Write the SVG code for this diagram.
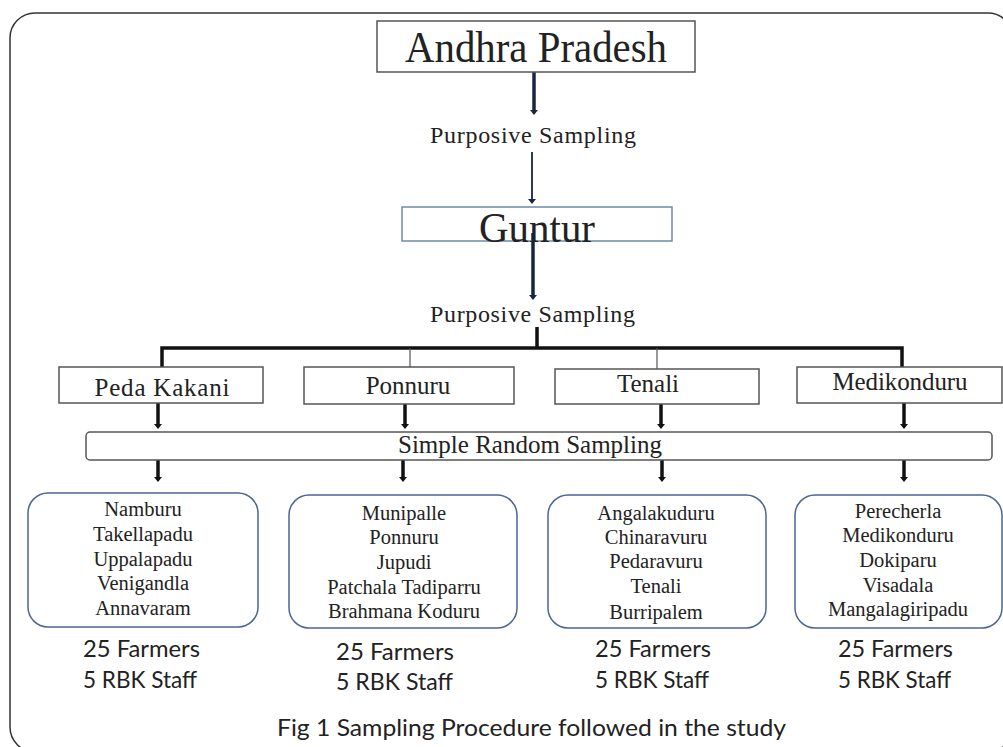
<svg xmlns="http://www.w3.org/2000/svg" width="1003" height="747" viewBox="0 0 1003 747">
<style>
.serif{font-family:"Liberation Serif","Times New Roman",serif;fill:#222;}
.sans{font-family:Lato,"Open Sans","Liberation Sans",sans-serif;fill:#222;}
.box{fill:#fff;stroke:#555;stroke-width:1.5;}
.vbox{fill:#fff;stroke:#4a6694;stroke-width:1.5;}
.thick{stroke:#111;stroke-width:3.5;fill:none;}
.navy{stroke:#1a2640;stroke-width:3.5;fill:none;}
.thin{stroke:#555;stroke-width:1.2;fill:none;}
.c{text-anchor:middle;}
</style>
<defs>
<marker id="ah" viewBox="0 0 5 8" refX="0" refY="4" markerWidth="5" markerHeight="8" markerUnits="userSpaceOnUse" orient="auto">
<path d="M0,0 L5,4 L0,8 Z" fill="#111"/>
</marker>
<marker id="ahn" viewBox="0 0 5 8" refX="0" refY="4" markerWidth="5" markerHeight="8" markerUnits="userSpaceOnUse" orient="auto">
<path d="M0,0 L5,4 L0,8 Z" fill="#1a2640"/>
</marker>
</defs>
<rect x="0" y="0" width="1003" height="747" fill="#fff"/>
<rect id="frame" x="10" y="13" width="1003" height="739" rx="25" fill="#fff" stroke="#333" stroke-width="1.5"/>

<g id="connectors">
<line class="navy" x1="534" y1="72" x2="534" y2="110" marker-end="url(#ahn)"/>
<line x1="532" y1="152" x2="532" y2="199" stroke="#1a2640" stroke-width="1.8" marker-end="url(#ahn)"/>
<line class="navy" x1="533" y1="233" x2="533" y2="295" marker-end="url(#ahn)"/>
<line class="thick" x1="537" y1="327" x2="537" y2="348"/>
<polyline class="thick" points="162,368 162,348 902,348 902,368"/>
<line class="thin" x1="410" y1="348" x2="410" y2="367"/>
<line class="thin" x1="657" y1="348" x2="657" y2="369"/>
<line class="thick" x1="158" y1="403" x2="158" y2="424" marker-end="url(#ah)"/>
<line class="thick" x1="405" y1="404" x2="405" y2="424" marker-end="url(#ah)"/>
<line class="thick" x1="661" y1="404" x2="661" y2="424" marker-end="url(#ah)"/>
<line class="thick" x1="904" y1="403" x2="904" y2="424" marker-end="url(#ah)"/>
<line class="thick" x1="158" y1="460" x2="158" y2="477" marker-end="url(#ah)"/>
<line class="thick" x1="403" y1="460" x2="403" y2="477" marker-end="url(#ah)"/>
<line class="thick" x1="662" y1="460" x2="662" y2="477" marker-end="url(#ah)"/>
<line class="thick" x1="904" y1="460" x2="904" y2="477" marker-end="url(#ah)"/>
</g>

<g id="andhra">
<rect class="box" x="377" y="21" width="318" height="51" stroke="#444"/>
<text class="serif c" x="536" y="62" font-size="44" textLength="262" lengthAdjust="spacingAndGlyphs">Andhra Pradesh</text>
</g>
<g id="purposive1">
<text class="serif" x="430" y="143" font-size="24" textLength="206">Purposive Sampling</text>
</g>
<g id="guntur">
<rect x="402" y="207" width="270" height="34" fill="none" stroke="#7088aa" stroke-width="1.5"/>
<text class="serif c" x="537" y="242" font-size="42" textLength="116" lengthAdjust="spacingAndGlyphs">Guntur</text>
</g>
<g id="purposive2">
<text class="serif" x="430" y="322" font-size="24" textLength="205">Purposive Sampling</text>
</g>

<g id="pedakakani">
<rect class="box" x="59" y="367" width="204" height="36"/>
<text class="serif c" x="162" y="396" font-size="25" textLength="135">Peda Kakani</text>
</g>
<g id="ponnuru">
<rect class="box" x="304" y="367" width="210" height="37"/>
<text class="serif c" x="408" y="394" font-size="25">Ponnuru</text>
</g>
<g id="tenali">
<rect class="box" x="555" y="369" width="204" height="35"/>
<text class="serif c" x="648" y="392" font-size="25">Tenali</text>
</g>
<g id="medikonduru">
<rect class="box" x="797" y="367" width="205" height="36"/>
<text class="serif c" x="900" y="390" font-size="25" textLength="135">Medikonduru</text>
</g>

<g id="srs">
<rect class="box" x="86" y="432" width="906" height="28" rx="4" stroke="#444"/>
<text class="serif" x="398" y="453" font-size="25" textLength="264">Simple Random Sampling</text>
</g>

<g id="villages1">
<rect class="vbox" x="28" y="493" width="230" height="134" rx="20"/>
<g class="serif c" font-size="20.5">
<text x="143" y="516">Namburu</text>
<text x="143" y="541">Takellapadu</text>
<text x="143" y="566">Uppalapadu</text>
<text x="143" y="590">Venigandla</text>
<text x="143" y="615">Annavaram</text>
</g>
<text class="sans" x="83" y="657" font-size="24" textLength="117" lengthAdjust="spacingAndGlyphs">25 Farmers</text>
<text class="sans" x="83" y="688" font-size="24" textLength="114" lengthAdjust="spacingAndGlyphs">5 RBK Staff</text>
</g>

<g id="villages2">
<rect class="vbox" x="289" y="495" width="228" height="133" rx="20"/>
<g class="serif c" font-size="20.5">
<text x="404" y="520">Munipalle</text>
<text x="404" y="544">Ponnuru</text>
<text x="404" y="569">Jupudi</text>
<text x="404" y="594">Patchala Tadiparru</text>
<text x="404" y="618">Brahmana Koduru</text>
</g>
<text class="sans" x="336" y="660" font-size="24" textLength="118" lengthAdjust="spacingAndGlyphs">25 Farmers</text>
<text class="sans" x="336" y="690" font-size="24" textLength="117" lengthAdjust="spacingAndGlyphs">5 RBK Staff</text>
</g>

<g id="villages3">
<rect class="vbox" x="548" y="495" width="218" height="133" rx="20"/>
<g class="serif c" font-size="20.5">
<text x="656" y="520">Angalakuduru</text>
<text x="656" y="544">Chinaravuru</text>
<text x="656" y="568">Pedaravuru</text>
<text x="656" y="593">Tenali</text>
<text x="656" y="619">Burripalem</text>
</g>
<text class="sans" x="595" y="657" font-size="24" textLength="116" lengthAdjust="spacingAndGlyphs">25 Farmers</text>
<text class="sans" x="595" y="688" font-size="24" textLength="114" lengthAdjust="spacingAndGlyphs">5 RBK Staff</text>
</g>

<g id="villages4">
<rect class="vbox" x="795" y="495" width="207" height="133" rx="20"/>
<g class="serif c" font-size="20.5">
<text x="898" y="518">Perecherla</text>
<text x="898" y="542">Medikonduru</text>
<text x="898" y="567">Dokiparu</text>
<text x="898" y="592">Visadala</text>
<text x="898" y="616">Mangalagiripadu</text>
</g>
<text class="sans" x="838" y="657" font-size="24" textLength="115" lengthAdjust="spacingAndGlyphs">25 Farmers</text>
<text class="sans" x="838" y="688" font-size="24" textLength="113" lengthAdjust="spacingAndGlyphs">5 RBK Staff</text>
</g>

<g id="caption">
<text class="sans" x="277" y="736" font-size="24" textLength="509" lengthAdjust="spacingAndGlyphs">Fig 1 Sampling Procedure followed in the study</text>
</g>
</svg>
